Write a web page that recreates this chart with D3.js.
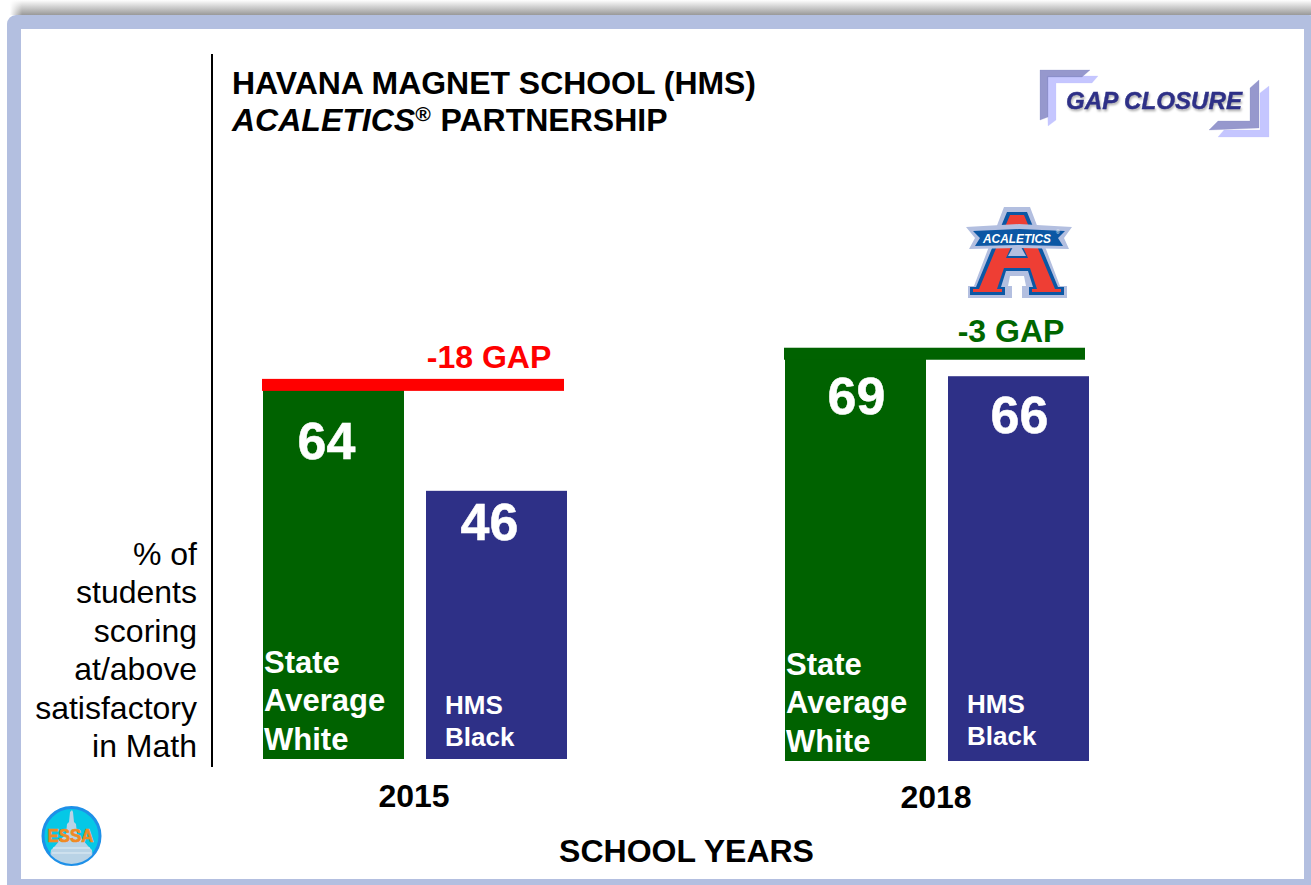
<!DOCTYPE html>
<html>
<head>
<meta charset="utf-8">
<script src="https://d3js.org/d3.v7.min.js"></script>
<style>
html, body { margin: 0; padding: 0; background: #fff; overflow: hidden; }
svg { display: block; }
text { font-family: "Liberation Sans", Arial, sans-serif; }
</style>
</head>
<body>
<div id="chart"></div>
<script>
var years = ["2015", "2018"];
var groups = ["State Average White", "HMS Black"];
var stateWhite = [64, 69];
var hmsBlack = [46, 66];
var gapLabels = ["-18 GAP", "-3 GAP"];
var gapColors = ["#ff0000", "#006600"];
var yLabelLines = ["% of", "students", "scoring", "at/above", "satisfactory", "in Math"];
var stateLines = ["State", "Average", "White"];
var blackLines = ["HMS", "Black"];

var width = 1311, height = 885;
var green = "#006200", navy = "#2e3087", frame = "#b3bfe0";

var svg = d3.select("#chart").append("svg")
    .attr("width", width)
    .attr("height", height);

var defs = svg.append("defs");
var shadow = defs.append("linearGradient")
    .attr("id", "topShadow")
    .attr("x1", 0).attr("y1", 0).attr("x2", 0).attr("y2", 1);
shadow.append("stop").attr("offset", "0%").attr("stop-color", "#ffffff");
shadow.append("stop").attr("offset", "100%").attr("stop-color", "#999999");
var shadowLeft = defs.append("linearGradient")
    .attr("id", "shadowLeft")
    .attr("x1", 0).attr("y1", 0).attr("x2", 1).attr("y2", 0);
shadowLeft.append("stop").attr("offset", "0%").attr("stop-color", "#fff").attr("stop-opacity", 1);
shadowLeft.append("stop").attr("offset", "100%").attr("stop-color", "#fff").attr("stop-opacity", 0);

// slide frame
svg.append("rect").attr("x", 10).attr("y", 0).attr("width", width - 10).attr("height", 15)
    .attr("fill", "url(#topShadow)");
svg.append("rect").attr("x", 10).attr("y", 0).attr("width", 12).attr("height", 15)
    .attr("fill", "url(#shadowLeft)");
svg.append("rect").attr("x", 7).attr("y", 15).attr("width", width).attr("height", height)
    .attr("rx", 9).attr("fill", frame);
svg.append("rect").attr("x", 21).attr("y", 29).attr("width", 1283).attr("height", 850)
    .attr("fill", "#fff");

// scales, one for the years and one inside each year
var x0 = d3.scalePoint().domain(years).range([415, 937]);
var x1 = d3.scaleBand().domain(groups).range([-152, 152]).paddingInner(0.135).paddingOuter(0);
var y = d3.scaleLinear().domain([0, 100]).range([0, -583]);
var baseline = { "2015": 759, "2018": 761 };

// y axis line
svg.append("line")
    .attr("x1", 212).attr("x2", 212).attr("y1", 54).attr("y2", 767)
    .attr("stroke", "#000").attr("stroke-width", 2);

// titles
svg.append("text")
    .attr("x", 232).attr("y", 94)
    .attr("font-size", 32).attr("font-weight", "bold")
    .attr("textLength", 524).attr("lengthAdjust", "spacingAndGlyphs")
    .text("HAVANA MAGNET SCHOOL (HMS)");
var sub = svg.append("text").attr("x", 232).attr("y", 131).attr("font-size", 32).attr("font-weight", "bold");
sub.append("tspan").attr("font-style", "italic").text("ACALETICS");
sub.append("tspan").attr("font-style", "italic").attr("font-size", 21).attr("dy", -10).text("®");
sub.append("tspan").attr("dy", 10).attr("dx", 1).text(" PARTNERSHIP");

// y label
svg.selectAll(".ylab").data(yLabelLines).enter().append("text")
    .attr("class", "ylab")
    .attr("x", 197)
    .attr("y", function(d, i) { return 565 + i * 38.4; })
    .attr("text-anchor", "end")
    .attr("font-size", 32)
    .attr("fill", "#000")
    .text(function(d) { return d; });

// bars and labels per year
var rows = years.map(function(yr, i) {
    return { year: yr, i: i, values: [stateWhite[i], hmsBlack[i]] };
});

function barData(d) {
    return d.values.map(function(v, k) { return { v: v, k: k, i: d.i, group: groups[k] }; });
}

var yearG = svg.selectAll(".year").data(rows).enter().append("g")
    .attr("class", "year")
    .attr("transform", function(d) { return "translate(" + x0(d.year) + "," + baseline[d.year] + ")"; });

yearG.selectAll("rect.bar")
    .data(barData)
    .enter().append("rect")
    .attr("class", "bar")
    .attr("x", function(d) { return x1(d.group); })
    .attr("width", x1.bandwidth())
    .attr("y", function(d) { return y(d.v); })
    .attr("height", function(d) { return -y(d.v); })
    .attr("fill", function(d) { return d.k === 0 ? green : navy; });

// value labels, the drop below the bar top differs per bar in the original
var labelDrop = [[73, 49.5], [55.5, 57]];
var labelShift = [63.5, 71.5];
yearG.selectAll("text.val")
    .data(barData)
    .enter().append("text")
    .attr("class", "val")
    .attr("x", function(d) { return x1(d.group) + labelShift[d.i]; })
    .attr("y", function(d) { return y(d.v) + labelDrop[d.i][d.k]; })
    .attr("text-anchor", "middle")
    .attr("font-size", 52)
    .attr("font-weight", "bold")
    .attr("fill", "#fff")
    .attr("stroke", "#fff")
    .attr("stroke-width", 0.5)
    .text(function(d) { return d.v; });

// group names inside bars
yearG.selectAll("text.state").data(stateLines).enter().append("text")
    .attr("class", "state")
    .attr("x", function() { return x1(groups[0]) + 1; })
    .attr("y", function(d, i) { return -86.5 + i * 38.5; })
    .attr("font-size", 31)
    .attr("font-weight", "bold")
    .attr("fill", "#fff")
    .text(function(d) { return d; });
yearG.each(function(row) {
    d3.select(this).selectAll("text.black").data(blackLines).enter().append("text")
        .attr("class", "black")
        .attr("x", x1(groups[1]) + 19)
        .attr("y", function(d, i) { return (row.i === 0 ? -45 : -48) + i * 32; })
        .attr("font-size", 26)
        .attr("font-weight", "bold")
        .attr("fill", "#fff")
        .text(function(d) { return d; });
});

// gap bar sits across the top of the taller bar
yearG.append("rect")
    .attr("x", -153)
    .attr("width", function(d) { return d.i === 0 ? 302 : 301; })
    .attr("y", function(d) { return y(d.values[0]) - (d.i === 0 ? 7 : 11); })
    .attr("height", 12)
    .attr("fill", function(d) { return d.i === 0 ? gapColors[0] : green; });

yearG.append("text")
    .attr("x", 74)
    .attr("y", function(d) { return y(d.values[0]) - (d.i === 0 ? 18 : 17); })
    .attr("text-anchor", "middle")
    .attr("font-size", 32)
    .attr("font-weight", "bold")
    .attr("fill", function(d) { return gapColors[d.i]; })
    .text(function(d) { return gapLabels[d.i]; });

// year labels
svg.selectAll(".yr").data(years).enter().append("text")
    .attr("class", "yr")
    .attr("x", function(d) { return x0(d) - 1; })
    .attr("y", function(d) { return d === "2015" ? 807 : 808; })
    .attr("text-anchor", "middle")
    .attr("font-size", 32)
    .attr("font-weight", "bold")
    .text(function(d) { return d; });

svg.append("text")
    .attr("x", 686.5).attr("y", 862)
    .attr("text-anchor", "middle")
    .attr("font-size", 32)
    .attr("font-weight", "bold")
    .text("SCHOOL YEARS");

// gap closure badge
var badge = svg.append("g").attr("class", "badge");
function corner(points, fill, opacity) {
    badge.append("polygon").attr("points", points).attr("fill", fill).attr("fill-opacity", opacity)
        .attr("stroke", fill).attr("stroke-opacity", 0.4).attr("stroke-width", 0.6);
}
corner("1047,76 1098,76 1092,83 1056,83 1056,120 1048,126", "#c5c6ff", 1);
corner("1040,70 1090,70 1082,77 1048,77 1048,117 1040,120", "#8486c4", 0.85);
corner("1269,86 1269,137 1218,137 1224,130 1260,130 1260,93", "#c5c6ff", 1);
corner("1259,80 1259,128 1209,130 1218,121 1250,121 1250,88", "#8486c4", 0.85);
badge.append("text")
    .attr("x", 1154).attr("y", 109)
    .attr("font-size", 24)
    .attr("text-anchor", "middle")
    .attr("font-weight", "bold")
    .attr("font-style", "italic")
    .attr("textLength", 176).attr("lengthAdjust", "spacingAndGlyphs")
    .attr("fill", "#2e3087")
    .attr("stroke", "#2e3087")
    .attr("stroke-width", 0.4)
    .style("filter", "drop-shadow(1px 2px 1px rgba(0,0,0,0.3))")
    .text("GAP CLOSURE");

// acaletics logo
var logo = svg.append("g").attr("class", "logo");
function logoPoly(points, fill) {
    logo.append("polygon").attr("points", points).attr("fill", fill);
}
logoPoly("1004,207 1030,207 1060,286 1067,286 1067,298 1022,298 1022,286 1026,286 1024,276 1010,276 1008,286 1012,286 1012,298 968,298 968,286 974,286", "#b3bfe0");
logoPoly("1007,212 1027,212 1058,287 1064,287 1064,295 1029,295 1029,287 1033,287 1028,271 1006,271 1001,287 1005,287 1005,295 970,295 970,287 976,287", "#0b57a4");
logoPoly("1010,215 1024,215 1055,289 1061,289 1061,292 1032,292 1032,289 1037,289 1030,268 1004,268 997,289 1002,289 1002,292 973,292 973,289 979,289", "#ee3e34");
logoPoly("1012,245 1022,245 1028,258 1006,258", "#0b57a4");
logoPoly("1013,247 1021,247 1026,256 1008,256", "#b3bfe0");
logoPoly("966,227 1019,224 1072,227 1064,238 1069,249 1019,248 969,249 975,238", "#b3bfe0");
logoPoly("973,231 1019,229 1065,231 1058,238 1063,246 1019,245 975,246 980,238", "#0b57a4");
logo.append("text")
    .attr("x", 983).attr("y", 243)
    .attr("font-size", 13)
    .attr("font-weight", "bold")
    .attr("font-style", "italic")
    .attr("textLength", 68).attr("lengthAdjust", "spacingAndGlyphs")
    .attr("fill", "#fff")
    .text("ACALETICS");
logo.append("text")
    .attr("x", 1056).attr("y", 234)
    .attr("font-size", 5)
    .attr("fill", "#fff")
    .text("®");

// essa seal
var essa = svg.append("g").attr("class", "essa");
defs.append("clipPath").attr("id", "sealClip")
    .append("circle").attr("cx", 71.5).attr("cy", 836).attr("r", 28);
essa.append("circle").attr("cx", 71.5).attr("cy", 836).attr("r", 28.5)
    .attr("fill", "#05c8e6").attr("stroke", "#1e90e8").attr("stroke-width", 3);
var dome = essa.append("g").attr("clip-path", "url(#sealClip)");
dome.append("path")
    .attr("d", "M70,812 L72,810 L73,812 L74,822 L76,824 L77,834 L82,839 L88,846 L92,850 L94,870 L48,870 L51,850 L55,846 L61,839 L66,834 L67,824 L69,822 Z")
    .attr("fill", "#b9d3e6");
dome.append("path")
    .attr("d", "M53,848 L90,848 M52,853 L91,853")
    .attr("stroke", "#e2eef6").attr("stroke-width", 1).attr("fill", "none");
essa.append("text")
    .attr("x", 47.5).attr("y", 842)
    .attr("font-size", 18)
    .attr("font-weight", "bold")
    .attr("textLength", 46).attr("lengthAdjust", "spacingAndGlyphs")
    .attr("fill", "#f08a24")
    .attr("stroke", "#f08a24")
    .attr("stroke-width", 0.7)
    .text("ESSA");
</script>
</body>
</html>
